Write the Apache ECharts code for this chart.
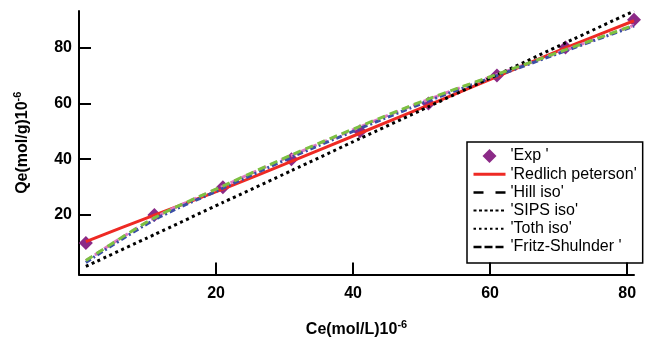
<!DOCTYPE html>
<html>
<head>
<meta charset="utf-8">
<script src="https://cdn.jsdelivr.net/npm/echarts@6/dist/echarts.min.js"></script>
<style>
html,body{margin:0;padding:0;background:#fff;}
#c{width:649px;height:343px;}
</style>
</head>
<body>
<div id="c"></div>
<script>
// ---- data ----
const ceValues   = [1, 11, 21, 31, 41, 51, 61, 71, 81];
const expQe      = [10, 20, 30, 40, 50, 60, 70, 80, 90];
const redlichQe  = [10.5, 20.0, 29.3, 39.2, 49.3, 59.4, 69.6, 79.9, 89.6];
const hillQe     = [3.6, 19.0, 30.3, 41.3, 51.6, 61.4, 70.3, 79.1, 88.0];
const sipsQe     = [3.0, 18.3, 29.6, 40.7, 51.0, 60.9, 69.9, 78.8, 87.7];
const tothQe     = [1.6, 13.0, 24.5, 35.9, 47.4, 58.8, 70.2, 81.7, 93.1];
const fritzQe    = [3.7, 19.0, 30.4, 41.5, 51.8, 61.6, 70.4, 79.2, 88.0];
const tickValues = [20, 40, 60, 80];
const seriesNames = ["'Exp '", "'Redlich peterson'", "'Hill iso'", "'SIPS iso'", "'Toth iso'", "'Fritz-Shulnder '"];

function pairs(ys){ return ceValues.map((x,i)=>[x, ys[i]]); }

const FONT = '"Liberation Sans", Arial, sans-serif';
const chart = echarts.init(document.getElementById('c'), null, {renderer:'canvas'});

const axisCommon = {
  axisLine: {show:true, onZero:false, lineStyle:{color:'#000', width:2}},
  axisTick: {show:true, inside:true, length:12, lineStyle:{color:'#000', width:2}, customValues: tickValues},
  axisLabel: {color:'#000', fontFamily:FONT, fontWeight:'bold', fontSize:16, customValues: tickValues},
  splitLine: {show:false}
};

const hidden = {opacity:0};
const diamondPath = 'path://M6,0 L12,6 L6,12 L0,6 Z';

const option = {
  animation:false,
  backgroundColor:'#fff',
  grid:{left:79, right:15, top:11, bottom:60},
  xAxis: Object.assign({}, axisCommon, {
    type:'value', min:0, max:81,
    name:'{a|Ce(mol/L)10}{b|-6}',
    nameLocation:'middle', nameGap:45,
    nameTextStyle:{rich:{
      a:{fontFamily:FONT, fontWeight:'bold', fontSize:16, color:'#000'},
      b:{fontFamily:FONT, fontWeight:'bold', fontSize:11, color:'#000', padding:[0,0,10,0]}
    }},
    axisLabel: Object.assign({}, axisCommon.axisLabel, {margin:11})
  }),
  yAxis: Object.assign({}, axisCommon, {
    type:'value', min:-1.3, max:93.1,
    name:'{a|Qe(mol/g)10}{b|-6}',
    nameLocation:'middle', nameGap:46, nameRotate:90,
    nameTextStyle:{rich:{
      a:{fontFamily:FONT, fontWeight:'bold', fontSize:16, color:'#000'},
      b:{fontFamily:FONT, fontWeight:'bold', fontSize:11, color:'#000', padding:[0,0,10,0]}
    }},
    axisLabel: Object.assign({}, axisCommon.axisLabel, {margin:7})
  }),
  legend:{
    orient:'vertical', left:467, top:142,
    padding:[6,6,8,5],
    borderColor:'#000', borderWidth:1.5,
    itemWidth:32, itemHeight:14, itemGap:2.2,
    symbolKeepAspect:true,
    textStyle:{fontFamily:FONT, fontSize:16, color:'#000', lineHeight:16},
    data:[
      {name:seriesNames[0], icon:diamondPath, itemStyle:{color:'#8b2a87', opacity:1}},
      {name:seriesNames[1], itemStyle:hidden, lineStyle:{color:'#ee2a24', width:3}},
      {name:seriesNames[2], itemStyle:hidden, lineStyle:{color:'#000', type:[10,12], width:2.5}},
      {name:seriesNames[3], itemStyle:hidden, lineStyle:{color:'#000', type:[3,2.5], width:2}},
      {name:seriesNames[4], itemStyle:hidden, lineStyle:{color:'#000', type:[2.5,3], width:2}},
      {name:seriesNames[5], itemStyle:hidden, lineStyle:{color:'#000', type:[8,3], width:2.5}}
    ]
  },
  series:[
    {name:seriesNames[0], type:'scatter', symbol:'diamond', symbolSize:14, symbolKeepAspect:true,
     itemStyle:{color:'#8b2a87', opacity:1}, data:pairs(expQe), z:1},
    {name:seriesNames[1], type:'line', symbol:'none', smooth:0.2,
     lineStyle:{color:'#ee2a24', width:3}, itemStyle:{color:'#ee2a24'}, data:pairs(redlichQe), z:2},
    {name:seriesNames[2], type:'line', symbol:'none', smooth:0.3,
     lineStyle:{color:'#e07ac0', width:3, type:[6,5]}, itemStyle:{color:'#000'}, data:pairs(hillQe), z:3},
    {name:seriesNames[3], type:'line', symbol:'none', smooth:0.3,
     lineStyle:{color:'#3b4ea6', width:3, type:[6,3,2,3]}, itemStyle:{color:'#000'}, data:pairs(sipsQe), z:3},
    {name:seriesNames[4], type:'line', symbol:'none', smooth:0.2,
     lineStyle:{color:'#000', width:3, type:[3,3.5]}, itemStyle:{color:'#000'}, data:pairs(tothQe), z:4},
    {name:seriesNames[5], type:'line', symbol:'none', smooth:0.3,
     lineStyle:{color:'#7dc142', width:3, type:[8,5]}, itemStyle:{color:'#000'}, data:pairs(fritzQe), z:4}
  ]
};
chart.setOption(option);
</script>
</body>
</html>
